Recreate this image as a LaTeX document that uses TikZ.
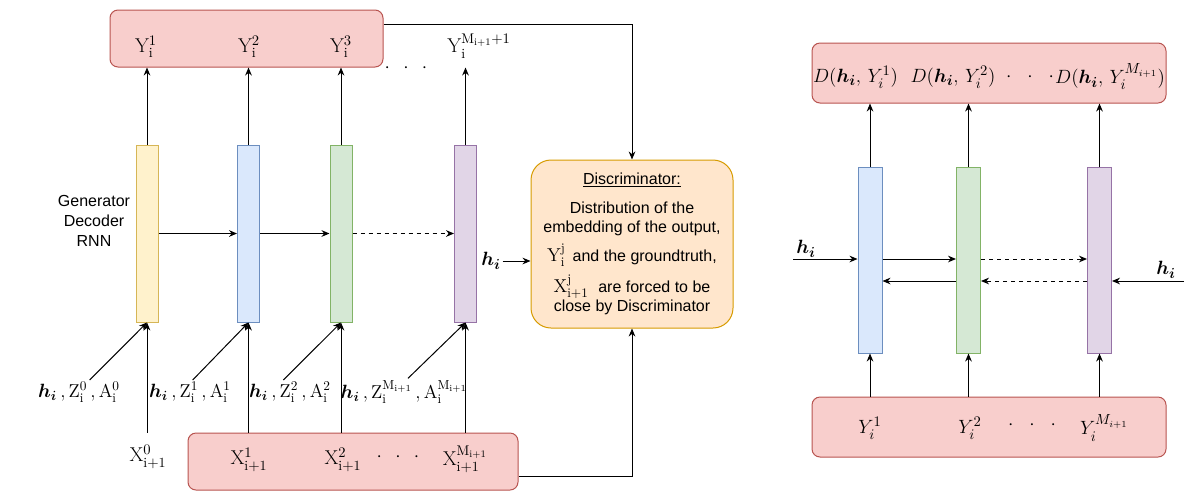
\documentclass[tikz,border=0pt]{standalone}
\usepackage{amsmath}
\usepackage{bm}
\usepackage{fontspec}
\setsansfont{Liberation Sans}
\usepackage{xcolor}
\usetikzlibrary{arrows.meta}
\usetikzlibrary{positioning}

\definecolor{pinkfill}{HTML}{F8CECC}
\definecolor{pinkline}{HTML}{B85450}
\definecolor{yelfill}{HTML}{FFF2CC}
\definecolor{yelline}{HTML}{D6B656}
\definecolor{bluefill}{HTML}{DAE8FC}
\definecolor{blueline}{HTML}{6C8EBF}
\definecolor{grnfill}{HTML}{D5E8D4}
\definecolor{grnline}{HTML}{82B366}
\definecolor{purfill}{HTML}{E1D5E7}
\definecolor{purline}{HTML}{9673A6}
\definecolor{orgfill}{HTML}{FFE6CC}
\definecolor{orgline}{HTML}{D79B00}

\newcommand{\threedots}[1]{$\cdot$\hspace{#1}$\cdot$\hspace{#1}$\cdot$}

\begin{document}
\begin{tikzpicture}[x=0.75pt, y=-0.75pt, line width=0.75pt, >={Stealth[length=6pt,width=5pt]},
		cell/.style={draw, minimum width=16.5pt, minimum height=132.75pt, inner sep=0pt},
		rcell/.style={cell, minimum width=18pt, minimum height=139.5pt},
		redbox/.style={draw=pinkline, fill=pinkfill, rounded corners=6pt, inner sep=0pt},
		lbl/.style={font=\fontsize{15}{17}\selectfont, inner sep=1pt},
		inlbl/.style={font=\fontsize{14}{16}\selectfont, inner sep=1pt},
		rlbl/.style={font=\fontsize{15}{18}\selectfont, inner sep=1pt}]
	\useasboundingbox (0,0) rectangle (1191,494);

	% generator (left)
	\node[redbox, minimum width=204.75pt, minimum height=42.75pt] (ltop) at (246.5,38.5) {};
	\node[redbox, minimum width=247.5pt, minimum height=42.75pt] (lbot) at (353,461.5) {};
	\node[cell, fill=yelfill, draw=yelline] (gy) at (147,233.5) {};
	\node[cell, fill=bluefill, draw=blueline] (gb) at (248.5,233.5) {};
	\node[cell, fill=grnfill, draw=grnline] (gg) at (341,233.5) {};
	\node[cell, fill=purfill, draw=purline] (gp) at (465.5,233.5) {};
	\node[font=\sffamily\fontsize{12}{15}\selectfont, align=center] (gen) at (94,221) {Generator\\Decoder\\RNN};

	\node[lbl] (ly1) at (146,47) {$\mathrm{Y}_\mathrm{i}^1$};
	\node[lbl] (ly2) at (249,47) {$\mathrm{Y}_\mathrm{i}^2$};
	\node[lbl] (ly3) at (341,47) {$\mathrm{Y}_\mathrm{i}^3$};
	\node[lbl] (ldt) at (406,68) {\threedots{10pt}};
	\node[lbl] (lym) at (479,46) {$\mathrm{Y}_\mathrm{i}^{\mathrm{M}_\mathrm{i+1}+1}$};

	\node[inlbl] (lin0) at (79,392) {$\bm{h_i}\,,\mathrm{Z}_\mathrm{i}^0\,,\mathrm{A}_\mathrm{i}^0$};
	\node[inlbl] (lin1) at (190,392) {$\bm{h_i}\,,\mathrm{Z}_\mathrm{i}^1\,,\mathrm{A}_\mathrm{i}^1$};
	\node[inlbl] (lin2) at (290,392) {$\bm{h_i}\,,\mathrm{Z}_\mathrm{i}^2\,,\mathrm{A}_\mathrm{i}^2$};
	\node[inlbl] (lin3) at (404,392) {$\bm{h_i}\,,\mathrm{Z}_\mathrm{i}^{\mathrm{M}_\mathrm{i+1}}\,,\mathrm{A}_\mathrm{i}^{\mathrm{M}_\mathrm{i+1}}$};

	\node[lbl] (lx0) at (148,457) {$\mathrm{X}_\mathrm{i+1}^0$};
	\node[lbl] (lx1) at (249,460) {$\mathrm{X}_\mathrm{i+1}^1$};
	\node[lbl] (lx2) at (343,460) {$\mathrm{X}_\mathrm{i+1}^2$};
	\node[lbl] (lbd) at (398,457) {\threedots{10pt}};
	\node[lbl] (lxm) at (465,459) {$\mathrm{X}_\mathrm{i+1}^{\mathrm{M}_\mathrm{i+1}}$};

	\draw[->] (gy) -- (gb);
	\draw[->] (gb) -- (gg);
	\draw[->, dashed] (gg) -- (gp);
	\foreach \c in {gy, gb, gg, gp}
		\draw[->] (\c.north) -- (\c.north |- ltop.south);
	\foreach \c in {gy, gb, gg, gp}
		\draw[->] (\c.south |- lbot.north) -- (\c.south);
	\draw[->] ([xshift=8pt]lin0.north) -- (gy.south);
	\draw[->] ([xshift=2pt]lin1.north) -- (gb.south);
	\draw[->] ([xshift=-5pt]lin2.north) -- (gg.south);
	\draw[->] ([xshift=3pt]lin3.north) -- (gp.south);

	% discriminator
	\node[draw=orgline, fill=orgfill, rounded corners=15pt, minimum width=151.5pt, minimum height=126pt,
		align=center, font=\sffamily\fontsize{12}{14.5}\selectfont] (disc) at (632,244)
		{\underline{Discriminator:}\\[7pt]
		Distribution of the\\
		embedding of the output,\\[5pt]
		{\fontsize{14}{14}\selectfont$\mathrm{Y}_\mathrm{i}^\mathrm{j}$}\, and the groundtruth,\\[5pt]
		{\fontsize{14}{14}\selectfont$\mathrm{X}_\mathrm{i+1}^\mathrm{j}$}\,\, are forced to be\\
		close by Discriminator};
	\node[rlbl] (hil) at (491,261) {$\bm{h_i}$};
	\coordinate (tl) at (0,24);
	\coordinate (bl) at (0,476);
	\draw[->] (ltop.east |- tl) -| (disc.north);
	\draw[->] (lbot.east |- bl) -| (disc.south);
	\draw[->] (hil.east) -- (hil.east -| disc.west);

	% discriminator network (right)
	\node[redbox, minimum width=265.5pt, minimum height=45pt] (rtop) at (989,73) {};
	\node[redbox, minimum width=265.5pt, minimum height=45pt] (rbot) at (989,427) {};
	\node[rcell, fill=bluefill, draw=blueline] (rb) at (870,260) {};
	\node[rcell, fill=grnfill, draw=grnline] (rg) at (968.5,260) {};
	\node[rcell, fill=purfill, draw=purline] (rp) at (1099.5,260) {};

	\node[rlbl] (rd1) at (855.5,77) {$D(\bm{h_i},\, Y_i^1)$};
	\node[rlbl] (rd2) at (953,77) {$D(\bm{h_i},\, Y_i^2)$};
	\node[rlbl] (rdt) at (1030,77) {\threedots{12pt}};
	\node[rlbl] (rdm) at (1110,77) {$D(\bm{h_i},\, Y_i^{M_{i+1}})$};
	\node[rlbl] (ry1) at (870,428) {$Y_i^1$};
	\node[rlbl] (ry2) at (970,428) {$Y_i^2$};
	\node[rlbl] (rbd) at (1032,425) {\threedots{12pt}};
	\node[rlbl] (rym) at (1104,428) {$Y_i^{M_{i+1}}$};

	\node[rlbl] (rhl) at (806,249) {$\bm{h_i}$};
	\node[rlbl] (rhr) at (1166,270) {$\bm{h_i}$};
	\coordinate (hinl) at (793,259);
	\coordinate (hinr) at (1184,281);
	\coordinate (bk) at (0,281);

	\draw[->] (hinl) -- (rb.west |- hinl);
	\draw[->] (rb.east |- hinl) -- (rg.west |- hinl);
	\draw[->, dashed] (rg.east |- hinl) -- (rp.west |- hinl);
	\draw[->] (hinr) -- (rp.east |- hinr);
	\draw[->, dashed] (rp.west |- bk) -- (rg.east |- bk);
	\draw[->] (rg.west |- bk) -- (rb.east |- bk);
	\foreach \c in {rb, rg, rp}
		\draw[->] (\c.north) -- (\c.north |- rtop.south);
	\foreach \c in {rb, rg, rp}
		\draw[->] (\c.south |- rbot.north) -- (\c.south);
\end{tikzpicture}
\end{document}
